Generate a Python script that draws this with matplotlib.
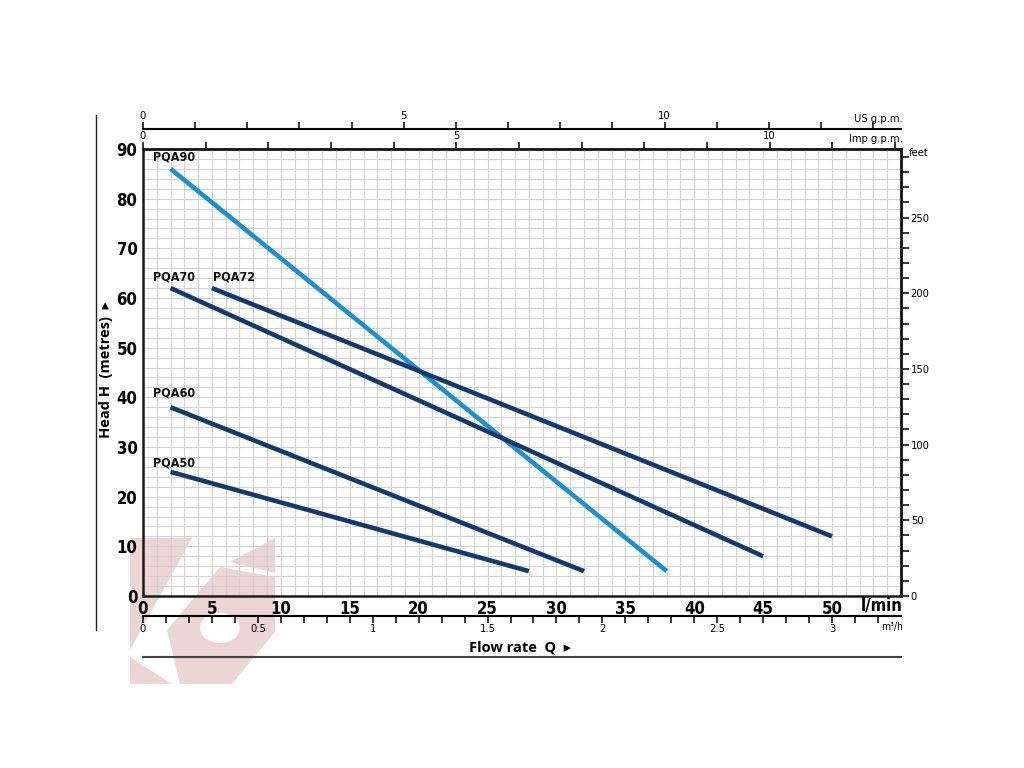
import matplotlib
matplotlib.use("Agg")
import matplotlib.pyplot as plt
import matplotlib.ticker as mticker
from matplotlib.patches import Polygon, Circle
from matplotlib.lines import Line2D

# pump curves: flow rate (l/min) vs head (m)
PUMPS = ["PQA90", "PQA70", "PQA72", "PQA60", "PQA50"]
FLOW = {
    "PQA90": [2, 38],
    "PQA70": [2, 45],
    "PQA72": [5, 50],
    "PQA60": [2, 32],
    "PQA50": [2, 28],
}
HEAD = {
    "PQA90": [86, 5],
    "PQA70": [62, 8],
    "PQA72": [62, 12],
    "PQA60": [38, 5],
    "PQA50": [25, 5],
}
LABEL_POS = {
    "PQA90": (0.7, 87),
    "PQA70": (0.7, 63),
    "PQA72": (5.1, 63),
    "PQA60": (0.7, 39.5),
    "PQA50": (0.7, 25.5),
}
NAVY = "#133a6e"
LIGHT = "#1b8fd1"
COLORS = {"PQA90": LIGHT, "PQA70": NAVY, "PQA72": NAVY, "PQA60": NAVY, "PQA50": NAVY}

X_TICKS = [0, 5, 10, 15, 20, 25, 30, 35, 40, 45, 50]
Y_TICKS = [0, 10, 20, 30, 40, 50, 60, 70, 80, 90]

NARROW = "DejaVu Sans"
BOLD_UI = ["Open Sans", "DejaVu Sans"]

W, H = 1024, 768
fig = plt.figure(figsize=(W / 100, H / 100), dpi=100)


def fx(px):
    return px / W


def fy(py):
    return 1 - py / H


# pale logo watermark behind the grid
wm = "#ecd5d5"
for pts in [
    [(130, 538), (192, 538), (130, 650)],
    [(130, 657), (130, 684), (172, 684)],
    [(167, 630), (220, 567), (275, 577), (275, 632), (232, 684), (180, 684)],
    [(230, 562), (275, 538), (275, 573)],
]:
    fig.add_artist(Polygon([(fx(a), fy(b)) for a, b in pts], closed=True,
                           transform=fig.transFigure, facecolor=wm,
                           edgecolor="none", zorder=-2))
fig.add_artist(Circle((fx(220), fy(628)), 20 / W, transform=fig.transFigure,
                      facecolor="white", edgecolor="none", zorder=-1))

ax = fig.add_axes([fx(143), fy(596), fx(901) - fx(143), fy(149) - fy(596)])
ax.set_facecolor("none")
ax.set_xlim(0, 55)
ax.set_ylim(0, 90)

ax.xaxis.set_minor_locator(mticker.MultipleLocator(1))
ax.yaxis.set_minor_locator(mticker.MultipleLocator(2))
ax.set_xticks(X_TICKS)
ax.set_yticks(Y_TICKS)
ax.grid(which="both", color="#d2d2d2", linewidth=0.8)
ax.set_axisbelow(True)
ax.tick_params(which="both", length=0)
ax.tick_params(axis="x", pad=3)
ax.tick_params(axis="y", pad=4)
for lab in ax.get_xticklabels() + ax.get_yticklabels():
    lab.set_fontfamily(NARROW)
    lab.set_fontstretch("condensed")
    lab.set_fontweight("bold")
    lab.set_fontsize(12)
for side in ["left", "bottom", "top", "right"]:
    ax.spines[side].set_linewidth(1.8)
    ax.spines[side].set_color("#1a1a1a")

for name in PUMPS:
    ax.plot(FLOW[name], HEAD[name], color=COLORS[name], linewidth=3.3,
            solid_capstyle="butt", zorder=3)
    lx, ly = LABEL_POS[name]
    ax.text(lx, ly, name, fontsize=9, fontweight="bold", family=NARROW,
            fontstretch="condensed", ha="left", va="bottom", color="#111111")

fmt5 = mticker.FuncFormatter(lambda v, p: f"{v:.0f}" if round(v) % 5 == 0 else "")

# Imp g.p.m. on the top spine
imp = ax.secondary_xaxis("top", functions=(lambda x: x / 4.546, lambda g: g * 4.546))
imp.set_xticks(range(0, 13))
imp.xaxis.set_major_formatter(fmt5)
imp.tick_params(length=5, width=1.1, labelsize=8, pad=1)
imp.spines["top"].set_linewidth(1.8)

# US g.p.m. a bit higher
us = ax.secondary_xaxis(1.045, functions=(lambda x: x / 3.785, lambda g: g * 3.785))
us.set_xticks(range(0, 15))
us.xaxis.set_major_formatter(fmt5)
us.tick_params(length=5, width=1.1, labelsize=8, pad=1)
us.spines["top"].set_linewidth(1.5)

# m3/h below
m3 = ax.secondary_xaxis(-0.045, functions=(lambda x: x * 0.06, lambda q: q / 0.06))
m3.set_xticks([i / 10 for i in range(0, 33)])
m3.xaxis.set_major_formatter(mticker.FuncFormatter(
    lambda v, p: (f"{v:g}" if abs(v * 2 - round(v * 2)) < 1e-6 else "")))
m3.tick_params(length=5, width=1.1, labelsize=8, pad=1)
m3.spines["bottom"].set_linewidth(1.5)

# feet on the right
ft = ax.secondary_yaxis("right", functions=(lambda m: m * 3.281, lambda f: f / 3.281))
ft.set_yticks([0, 50, 100, 150, 200, 250])
ft.yaxis.set_minor_locator(mticker.MultipleLocator(10))
ft.tick_params(which="both", length=6, width=1.1, labelsize=8, pad=1)
ft.spines["right"].set_linewidth(1.8)

for sec in (imp, us, m3, ft):
    for lab in sec.get_xticklabels() + sec.get_yticklabels():
        lab.set_fontfamily(NARROW)
        lab.set_fontstretch("condensed")

small = dict(fontsize=8, family=NARROW, fontstretch="condensed")
fig.text(fx(903), fy(119), "US g.p.m.", ha="right", va="center", **small)
fig.text(fx(903), fy(139), "Imp g.p.m.", ha="right", va="center", **small)
fig.text(fx(909), fy(153), "feet", ha="left", va="center", **small)
fig.text(fx(903), fy(606), "l/min", ha="right", va="center", fontsize=12,
         fontweight="bold", family=NARROW, fontstretch="condensed")
fig.text(fx(903), fy(627), "m³/h", ha="right", va="center", fontsize=7.5,
         family=NARROW, fontstretch="condensed")

fig.text(fx(520), fy(647), "Flow rate  Q  \u25b8", ha="center", va="center",
         fontsize=10.5, fontweight="bold", family=BOLD_UI)
fig.text(fx(106), fy(370), "Head H  (metres)  \u25b8", ha="center", va="center",
         rotation=90, fontsize=10.5, fontweight="bold", family=BOLD_UI)

# frame lines
fig.add_artist(Line2D([fx(96), fx(96)], [fy(115), fy(630)], color="#222222",
                      linewidth=1.0, transform=fig.transFigure))
fig.add_artist(Line2D([fx(143), fx(901)], [fy(657), fy(657)], color="#444444",
                      linewidth=1.5, transform=fig.transFigure))

fig.savefig("out.png", dpi=100, facecolor="white")
